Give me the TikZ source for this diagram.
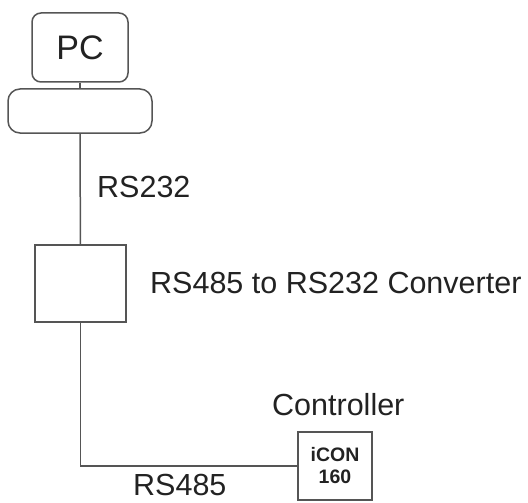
\documentclass[tikz,border=0pt]{standalone}
\usepackage{fontspec}
\setmainfont{Liberation Sans}
\usetikzlibrary{positioning}
\definecolor{wiregray}{HTML}{555555}
\definecolor{ink}{HTML}{222222}
\tikzset{
  box/.style={draw=wiregray, line width=1.5pt, fill=white, inner sep=0pt},
  roundbox/.style={box, rounded corners=9pt},
  wire/.style={draw=wiregray, line width=1.5pt},
  lbl/.style={anchor=base west, inner sep=0pt, text=ink, font=\fontsize{30.5}{34}\selectfont}
}
\begin{document}
\begin{tikzpicture}[x=1pt, y=-1pt]
  \useasboundingbox (0,0) rectangle (528,503);
  % computer
  \node[roundbox, minimum width=96pt, minimum height=69pt, font=\fontsize{34}{36}\selectfont, text=ink] (pc) at (80,47.5) {PC};
  \node[roundbox, rounded corners=12pt, minimum width=144pt, minimum height=44pt] (kbd) at (80,111) {};
  % converter and controller
  \node[box, minimum width=91pt, minimum height=77pt] (conv) at (80.5,283.5) {};
  \node[box, minimum width=74pt, minimum height=68pt, align=center, text=ink, font=\bfseries\fontsize{19.5}{22}\selectfont] (icon) at (335,466) {iCON\\160};
  \draw[wire] (pc) -- (kbd);
  \draw[wire] (kbd) -- (conv);
  \draw[wire] (conv.south) |- (icon.west);
  % labels
  \node[lbl] (rs232) at (97,197) {RS232};
  \node[lbl] (convlbl) at (150,293) {RS485 to RS232 Converter};
  \node[lbl] (ctrl) at (272,415) {Controller};
  \node[lbl] (rs485) at (133,495) {RS485};
\end{tikzpicture}
\end{document}
